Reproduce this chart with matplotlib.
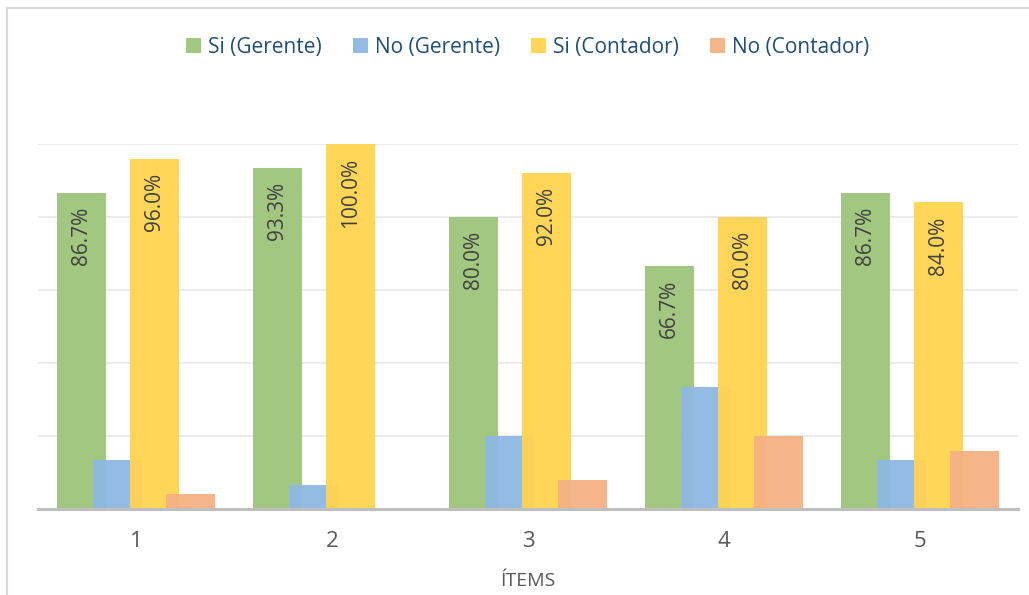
import numpy as np
import matplotlib.pyplot as plt
from matplotlib.lines import Line2D

items = ["1", "2", "3", "4", "5"]
si_gerente = [86.7, 93.3, 80.0, 66.7, 86.7]
no_gerente = [13.3, 6.7, 20.0, 33.3, 13.3]
si_contador = [96.0, 100.0, 92.0, 80.0, 84.0]
no_contador = [4.0, 0.0, 8.0, 20.0, 16.0]

series = [
    ("Si (Gerente)", si_gerente, "#9DC47A", True),
    ("No (Gerente)", no_gerente, "#8DB8E2", False),
    ("Si (Contador)", si_contador, "#FFD44F", True),
    ("No (Contador)", no_contador, "#F4B183", False),
]

plt.rcParams['font.family'] = ['Open Sans', 'DejaVu Sans']

fig = plt.figure(figsize=(10.29, 5.95), dpi=100)
ax = fig.add_axes([38 / 1029, 1 - 509 / 595, (1018 - 38) / 1029, (509 - 144) / 595])

x = np.arange(len(items))
offsets = [-0.278, -0.093, 0.093, 0.278]
width = 0.25

for (name, vals, color, labeled), off in zip(series, offsets):
    vals = np.array(vals) / 100
    bars = ax.bar(x + off, vals, width, color=color, alpha=0.95, label=name,
                  edgecolor='none', zorder=2, clip_on=False)
    if labeled:
        for b, v in zip(bars, vals):
            ax.annotate(f"{v * 100:.1f}%", (b.get_x() + b.get_width() / 2, v),
                        xytext=(0, -10), textcoords='offset points',
                        rotation=90, ha='center', va='top',
                        fontsize=15, color='#404040', zorder=3)

ax.set_xlim(-0.5, len(items) - 0.5)
ax.set_ylim(0, 1.0)
ax.set_yticks([0.2, 0.4, 0.6, 0.8, 1.0])
ax.set_yticklabels([])
ax.tick_params(axis='y', length=0)
ax.grid(axis='y', color='#E8E8E8', linewidth=1.2, zorder=0)
ax.set_xticks(x)
ax.set_xticklabels(items, fontsize=16, color='#595959')
ax.tick_params(axis='x', length=0, pad=16)
for s in ['top', 'right', 'left']:
    ax.spines[s].set_visible(False)
ax.spines['bottom'].set_color('#BFBFBF')
ax.spines['bottom'].set_linewidth(2.2)
ax.spines['bottom'].set_zorder(4)
ax.set_xlabel("ÍTEMS", fontsize=14, color='#595959', labelpad=14)

leg = fig.legend(loc='upper center', bbox_to_anchor=(0.513, 0.97), ncol=4,
                 frameon=False, fontsize=15, handlelength=0.7, handleheight=0.7,
                 handletextpad=0.35, columnspacing=1.5)
for t in leg.get_texts():
    t.set_color('#1F4E79')

# chart frame
fig.add_artist(Line2D([7 / 1029, 7 / 1029], [0, 1 - 8 / 595], transform=fig.transFigure,
                      color='#D9D9D9', linewidth=1.5))
fig.add_artist(Line2D([7 / 1029, 1], [1 - 8 / 595, 1 - 8 / 595], transform=fig.transFigure,
                      color='#D9D9D9', linewidth=1.5))

fig.savefig("out.png", dpi=100)
